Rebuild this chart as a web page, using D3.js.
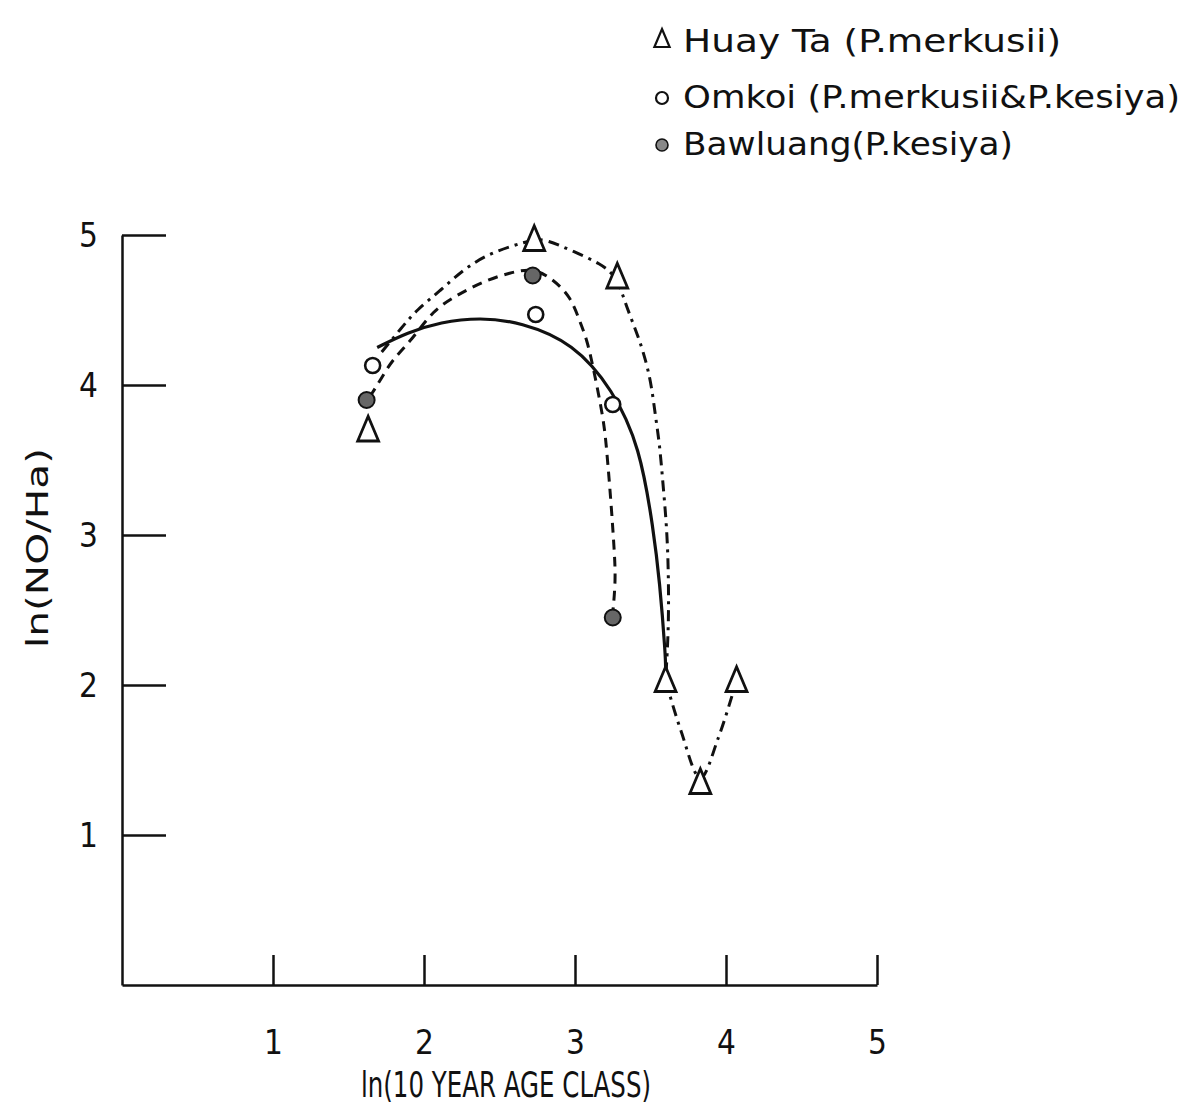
<!DOCTYPE html>
<html>
<head>
<meta charset="utf-8">
<script src="https://cdn.jsdelivr.net/npm/d3@7"></script>
<style>
  body { margin: 0; background: #fff; }
  svg { display: block; }
  text { font-family: "DejaVu Sans", sans-serif; fill: #111; }
</style>
</head>
<body>
<svg id="chart" width="1195" height="1113"></svg>
<script>
// observed points, [ln(age class), ln(NO/Ha)]
var huayTaPts = [[1.63, 3.70], [2.73, 4.97], [3.28, 4.72], [3.60, 2.03], [3.83, 1.35], [4.07, 2.03]];
var omkoiPts = [[1.66, 4.13], [2.74, 4.47], [3.25, 3.87]];
var bawluangPts = [[1.62, 3.90], [2.72, 4.73], [3.25, 2.45]];

// hand-drawn fitted curves
var huayTaCurve = [[1.72, 4.22], [1.85, 4.38], [1.95, 4.50], [2.11, 4.63], [2.26, 4.77], [2.42, 4.87], [2.59, 4.93],
  [2.73, 4.97], [2.81, 4.97], [2.99, 4.89], [3.17, 4.81], [3.28, 4.72], [3.34, 4.52], [3.43, 4.30], [3.50, 4.05],
  [3.53, 3.81], [3.56, 3.61], [3.58, 3.37], [3.61, 3.03], [3.62, 2.70], [3.62, 2.37], [3.60, 2.03]];
var huayTaTail = [[3.60, 2.03], [3.70, 1.70], [3.83, 1.38], [3.95, 1.65], [4.07, 2.03]];
var omkoiCurve = [[1.69, 4.25], [1.89, 4.35], [2.11, 4.42], [2.37, 4.45], [2.64, 4.42], [2.99, 4.28], [3.25, 3.97],
  [3.43, 3.59], [3.52, 3.03], [3.56, 2.70], [3.60, 2.19], [3.60, 2.10]];
var bawluangCurve = [[1.64, 3.92], [1.71, 4.03], [1.79, 4.17], [1.92, 4.30], [2.06, 4.50], [2.22, 4.60], [2.39, 4.69],
  [2.57, 4.75], [2.73, 4.78], [2.86, 4.70], [2.97, 4.59], [3.03, 4.43], [3.08, 4.30], [3.12, 4.12], [3.19, 3.77],
  [3.21, 3.57], [3.24, 3.20], [3.26, 2.90], [3.27, 2.70], [3.25, 2.48]];

var xTicks = [1, 2, 3, 4, 5];
var yTicks = [1, 2, 3, 4, 5];
var legendLabels = ['Huay Ta (P.merkusii)', 'Omkoi (P.merkusii&P.kesiya)', 'Bawluang(P.kesiya)'];

var svg = d3.select('#chart');
var x = d3.scaleLinear().domain([0, 5]).range([122, 877]);
var y = d3.scaleLinear().domain([0, 5]).range([985, 235]);

// axes, ticks point inward like the original
var gx = svg.append('g').attr('transform', 'translate(0,' + y(0) + ')')
  .call(d3.axisBottom(x).tickValues(xTicks).tickSizeInner(-30).tickSizeOuter(0).tickPadding(46).tickFormat(d3.format('d')));
var gy = svg.append('g').attr('transform', 'translate(' + x(0) + ',0)')
  .call(d3.axisLeft(y).tickValues(yTicks).tickSizeInner(-44).tickSizeOuter(0).tickPadding(24).tickFormat(d3.format('d')));
[gx, gy].forEach(function(g) {
  g.select('.domain').attr('stroke', '#111').attr('stroke-width', 2.5);
  g.selectAll('.tick line').attr('stroke', '#111').attr('stroke-width', 2.5);
  g.selectAll('.tick text').attr('font-size', 33).attr('fill', '#111')
    .style('font-family', '"DejaVu Sans Condensed", "DejaVu Sans", sans-serif');
});
gy.selectAll('.tick text').attr('dy', '0.36em');

svg.append('text').attr('x', 506).attr('y', 1097).attr('text-anchor', 'middle')
  .attr('font-size', 35).attr('textLength', 290).attr('lengthAdjust', 'spacingAndGlyphs')
  .text('ln(10 YEAR AGE CLASS)');
svg.append('text').attr('transform', 'translate(48,548) rotate(-90)').attr('text-anchor', 'middle')
  .attr('font-size', 31).attr('textLength', 200).attr('lengthAdjust', 'spacingAndGlyphs')
  .text('ln(NO/Ha)');

// curves
var line = d3.line().x(function(d) { return x(d[0]); }).y(function(d) { return y(d[1]); })
  .curve(d3.curveBasis);
var tailLine = d3.line().x(function(d) { return x(d[0]); }).y(function(d) { return y(d[1]); })
  .curve(d3.curveCatmullRom.alpha(0.5));
svg.append('path').datum(huayTaCurve).attr('d', line).attr('fill', 'none')
  .attr('stroke', '#111').attr('stroke-width', 3).attr('stroke-dasharray', '11,6,3,6');
svg.append('path').datum(huayTaTail).attr('d', tailLine).attr('fill', 'none')
  .attr('stroke', '#111').attr('stroke-width', 3).attr('stroke-dasharray', '11,6,3,6');
svg.append('path').datum(bawluangCurve).attr('d', line).attr('fill', 'none')
  .attr('stroke', '#111').attr('stroke-width', 3).attr('stroke-dasharray', '10,7');
svg.append('path').datum(omkoiCurve).attr('d', line).attr('fill', 'none')
  .attr('stroke', '#111').attr('stroke-width', 3.2);

// markers
function triPath(s) { return 'M0,' + (-1.25 * s) + 'L' + (0.95 * s) + ',' + s + 'L' + (-0.95 * s) + ',' + s + 'Z'; }
svg.append('g').selectAll('path').data(huayTaPts).enter().append('path')
  .attr('transform', function(d) { return 'translate(' + x(d[0]) + ',' + y(d[1]) + ')'; })
  .attr('d', triPath(11)).attr('fill', '#fff').attr('stroke', '#111').attr('stroke-width', 2.8);
svg.append('g').selectAll('circle').data(omkoiPts).enter().append('circle')
  .attr('cx', function(d) { return x(d[0]); }).attr('cy', function(d) { return y(d[1]); })
  .attr('r', 7.5).attr('fill', '#fff').attr('stroke', '#111').attr('stroke-width', 2.6);
svg.append('g').selectAll('circle').data(bawluangPts).enter().append('circle')
  .attr('cx', function(d) { return x(d[0]); }).attr('cy', function(d) { return y(d[1]); })
  .attr('r', 8).attr('fill', '#666').attr('stroke', '#111').attr('stroke-width', 2);

// legend
var leg = svg.append('g');
var legY = [40, 96, 143];
var legW = [378, 497, 330];
leg.append('path').attr('transform', 'translate(662,' + (legY[0] - 1) + ')').attr('d', triPath(8))
  .attr('fill', '#fff').attr('stroke', '#111').attr('stroke-width', 2.2);
leg.append('circle').attr('cx', 662).attr('cy', legY[1] + 2).attr('r', 6)
  .attr('fill', '#fff').attr('stroke', '#111').attr('stroke-width', 2.2);
leg.append('circle').attr('cx', 662).attr('cy', legY[2] + 2).attr('r', 6)
  .attr('fill', '#888').attr('stroke', '#111').attr('stroke-width', 1.6);
leg.selectAll('text').data(legendLabels).enter().append('text')
  .attr('x', 683).attr('y', function(d, i) { return legY[i] + 12; })
  .attr('font-size', 32).attr('textLength', function(d, i) { return legW[i]; })
  .attr('lengthAdjust', 'spacingAndGlyphs').text(function(d) { return d; });
</script>
</body>
</html>
